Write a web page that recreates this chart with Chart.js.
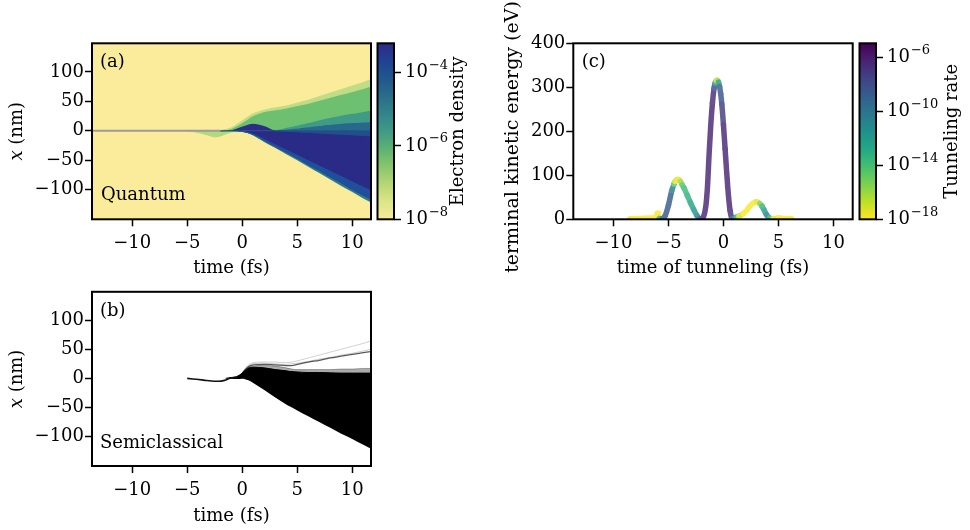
<!DOCTYPE html>
<html>
<head>
<meta charset="utf-8">
<script src="https://cdn.jsdelivr.net/npm/chart.js@4.4.1/dist/chart.umd.min.js"></script>
<style>
  html, body { margin: 0; padding: 0; background: #fff; }
  #fig { position: relative; width: 970px; height: 530px; overflow: hidden; background: #fff; }
  canvas { position: absolute; }
</style>
</head>
<body>
<div id="fig">
  <canvas id="chartA" width="376" height="290" style="left:0px;top:0px"></canvas>
  <canvas id="cbarA" width="104" height="290" style="left:376px;top:0px"></canvas>
  <canvas id="chartB" width="376" height="250" style="left:0px;top:280px"></canvas>
  <canvas id="chartC" width="380" height="290" style="left:480px;top:0px"></canvas>
  <canvas id="cbarC" width="112" height="290" style="left:858px;top:0px"></canvas>
</div>
<script>
!(function(){
	'use strict';

	// ---- tick values / ranges ----
	var TIME_TICKS = [-10, -5, 0, 5, 10];
	var X_NM_TICKS = [-100, -50, 0, 50, 100];
	var ENERGY_TICKS = [0, 100, 200, 300, 400];
	var DENSITY_EXP_TICKS = [-8, -6, -4];
	var RATE_EXP_TICKS = [-18, -14, -10, -6];
	var DENSITY_EXP_RANGE = [-8, -3.2];
	var RATE_EXP_RANGE = [-18, -4.95];

	// ---- (a) quantum: band edges (nm) at A_T (fs) ----
	var A_T          = [-5, -4, -3, -2.5, -2, -1, 0, 1, 2, 3, 4, 5, 6, 7, 8, 9, 10, 11, 11.7];
	var A_UPPER      = [null, null, null, null, 0, 5, 17, 29, 35, 39, 42, 47, 52, 58, 64, 70, 76, 82, 87];
	var A_GREEN_TOP  = [null, null, null, null, 0, 3, 13, 25, 32, 35, 38, 42, 46, 51, 56, 61, 66, 71, 75];
	var A_GREEN_BOT  = [null, null, null, null, 0, 1, 7, 12, 8, 1, 5, 9, 13, 18, 22, 26, 29, 32, 34];
	var A_TEAL_MID   = [null, null, null, null, null, null, null, null, null, 0, 2, 4, 6, 8, 10, 12, 13, 14, 15];
	var A_CORE_TOP   = [null, null, null, null, 0, 1, 7, 12, 8, 1, null, null, null, null, null, null, null, null, null];
	var A_STEEL_BOT  = [null, null, null, null, null, null, null, null, null, 0, -1, -2, -3, -4, -5, -6, -7, -8, -9];
	var A_NAVY_BOT   = [null, null, null, null, 0, 0, -1, -6, -15, -24, -33, -42, -51, -60, -69, -78, -87, -96, -102];
	var A_BLUE_BOT   = [null, null, null, null, 0, 0, -1, -7, -18, -28, -38, -48, -59, -69, -80, -90, -101, -111, -118];
	var A_LOWER      = [null, null, null, null, 0, 0, -1, -8, -19, -29, -40, -50, -61, -72, -83, -94, -104, -115, -122];
	var A_DIP_LOW    = [0, -3, -8, -10.5, -9, -2, 0, null, null, null, null, null, null, null, null, null, null, null, null];
	var A_DIP_IN     = [0, -1.5, -5, -7, -6.5, -1, 0, null, null, null, null, null, null, null, null, null, null, null, null];
	var A_ZERO_T     = [-13.65, -2, 11.7];
	var A_ZERO_X     = [0, 0, 0];

	// ---- (b) semiclassical trajectories (nm) ----
	var B_T      = [-1.5, -1, -0.5, 0, 0.5, 1, 2, 3, 4, 4.3, 5, 6, 7, 8, 9, 10, 11, 11.7];
	var B_TOP    = [0, 1.5, 3, 9, 17, 19, 18, 15, 13, 12, 11, 10, 10, 9.5, 9, 9, 9, 9];
	var B_BOTTOM = [0, -0.5, -1, -0.5, -3, -8, -20, -33, -45, -48, -55, -65, -75, -85, -95, -104, -114, -121];
	var B_DIP_T  = [-5, -4.5, -3.5, -2.8, -2.2, -1.6, -1.1, -0.5];
	var B_DIP_X  = [0, -1, -3, -4.5, -5, -3.5, 0, 2];
	var B_TRAIL_T = [0, 0.5, 1, 2, 3, 4, 4.5, 5, 6, 7, 8, 9, 10, 11, 11.7];
	var B_FUZZ    = [9, 18, 21, 22, 21, 18, 16, 15, 15, 15, 15, 16, 16, 17, 17];
	var B_TRAIL1  = [9, 19, 23, 24, 23, 22, 22, 24, 28, 31, 35, 38, 41, 44, 46];
	var B_TRAIL2  = [10, 22, 27, 28, 28, 27, 28, 30, 35, 40, 45, 50, 55, 60, 64];
	var B_TRAIL3  = [9, 20, 25, 26, 25, 24, 25, 26, 29, 33, 36, 40, 43, 47, 50];

	// ---- (c) terminal energy vs tunneling time, log10 tunneling rate ----
	var C_T = [-8.5, -7.5, -6.5, -6.1, -6.05, -5.9, -5.85, -5.6, -5.3, -5.0, -4.7, -4.5, -4.4, -4.15, -3.9, -3.75, -3.6, -3.3, -3.0, -2.7, -2.4, -2.2, -2.0,
		-1.85, -1.6, -1.45, -1.3, -1.15, -1.0, -0.85, -0.75, -0.65, -0.55, -0.45, -0.35, -0.25, -0.15, 0.0, 0.15, 0.3, 0.45, 0.6, 0.8,
		1.0, 1.2, 1.4, 1.8, 2.1, 2.4, 2.7, 3.0, 3.3, 3.5, 3.7, 3.9, 4.2, 4.5, 5.0, 5.5, 6.2];
	var C_E = [1, 2, 3, 4, 14, 14, 2, 1, 8, 32, 65, 80, 86, 91, 86, 78, 72, 55, 38, 22, 8, 2, 0,
		3, 30, 75, 150, 215, 265, 298, 310, 315, 316, 312, 302, 285, 262, 215, 160, 105, 55, 20, 2,
		3, 5, 7, 13, 20, 30, 37, 40, 36, 30, 21, 11, 3, 1, 3, 2, 1];
	var C_LOGRATE = [-18, -18, -18, -18, -18, -18, -18, -9, -8.5, -8.5, -9, -12, -17, -18, -17, -15, -14, -13.5, -13, -12, -11.5, -10, -7,
		-6.3, -6.3, -6.3, -6.3, -6.3, -6.3, -7, -9, -16, -18, -15, -9, -8.5, -8, -6.5, -6.3, -6.3, -6.3, -6.3, -7,
		-9, -11, -16, -18, -18, -18, -18, -18, -17, -14, -13, -11.5, -10, -17, -18, -18, -18];

	// ---- colours / fonts ----
	var FONT = '"DejaVu Serif", serif';
	var FS = 18;
	var VIRIDIS = ['#440154', '#482374', '#404387', '#345e8d', '#29788e', '#20908c', '#22a884', '#44bf70', '#7ad151', '#bddf26', '#fde725'];
	var HALINE_R = ['#f8ec9a', '#dce587', '#b5d776', '#88c66c', '#5db271', '#3f9a86', '#33848a', '#2a6d8b', '#21568e', '#1f4295', '#2d2a86'];

	Chart.defaults.font.family = FONT;
	Chart.defaults.font.size = FS;
	Chart.defaults.color = '#000';

	function hex(c){ return [parseInt(c.substr(1,2),16), parseInt(c.substr(3,2),16), parseInt(c.substr(5,2),16)]; }

	function rateColor(lr){
		var f = (lr - RATE_EXP_RANGE[0]) / (RATE_EXP_RANGE[1] - RATE_EXP_RANGE[0]);
		var v = Math.min(1, Math.max(0, 1 - f)) * (VIRIDIS.length - 1);
		var i = Math.min(VIRIDIS.length - 2, Math.floor(v)), w = v - i;
		var a = hex(VIRIDIS[i]), b = hex(VIRIDIS[i+1]);
		var rgb = [0,1,2].map(function(k){ return Math.round(0.82 * (a[k] + (b[k]-a[k]) * w) + 0.18 * 255); });
		return 'rgb(' + rgb.join(',') + ')';
	}

	function pts(xs, ys, mask){
		var out = [];
		for (var i = 0; i < xs.length; i++) {
			if (ys[i] != null && (!mask || mask[i] != null)) out.push({x: xs[i], y: ys[i]});
		}
		return out;
	}

	function edge(xs, ys, mask){
		return { data: pts(xs, ys, mask), borderColor: 'rgba(0,0,0,0)', borderWidth: 0, pointRadius: 0, fill: false, cubicInterpolationMode: 'monotone' };
	}

	// filled band between two edges
	function band(xs, top, bottom, color, order){
		var lo = edge(xs, bottom, top);
		var hi = edge(xs, top, bottom);
		hi.fill = '-1'; hi.backgroundColor = color; hi.borderColor = color; hi.borderWidth = 1;
		lo.order = hi.order = order || 0;
		return [lo, hi];
	}

	// filled band between an edge and x = 0
	function zeroBand(xs, ys, color, order){
		var d = edge(xs, ys);
		d.fill = {value: 0}; d.backgroundColor = color; d.borderColor = color; d.borderWidth = 1;
		d.order = order || 0;
		return d;
	}

	function line(xs, ys, color, width){
		var d = edge(xs, ys);
		d.borderColor = color; d.borderWidth = width;
		return d;
	}

	function minus(v){ return String(v).replace('-', '\u2212'); }

	// ---- plugins ----
	var framePlugin = {
		id: 'frame',
		beforeDatasetsDraw: function(chart, args, opts){
			if (!opts.fill) return;
			var a = chart.chartArea, ctx = chart.ctx;
			ctx.save(); ctx.fillStyle = opts.fill; ctx.fillRect(a.left, a.top, a.width, a.height); ctx.restore();
		},
		afterDatasetsDraw: function(chart){
			var a = chart.chartArea, ctx = chart.ctx;
			ctx.save(); ctx.strokeStyle = '#000'; ctx.lineWidth = 2;
			ctx.strokeRect(a.left, a.top, a.width, a.height); ctx.restore();
		}
	};

	// panel letters, in-plot names, rotated titles (parts may be italic)
	var textPlugin = {
		id: 'texts',
		afterDraw: function(chart, args, opts){
			var a = chart.chartArea, ctx = chart.ctx;
			ctx.save();
			ctx.fillStyle = '#000'; ctx.textBaseline = 'middle';
			(opts.items || []).forEach(function(it){
				var parts = it.parts || [{text: it.text}];
				var size = it.size || FS;
				var fontOf = function(p){ return (p.italic ? 'italic ' : '') + size + 'px ' + FONT; };
				var total = 0;
				parts.forEach(function(p){ ctx.font = fontOf(p); total += ctx.measureText(p.text).width; });
				ctx.save();
				if (it.vertical) {
					ctx.translate(it.x, it.cy != null ? it.cy : (a.top + a.bottom) / 2);
					ctx.rotate(-Math.PI / 2);
					ctx.translate(-total / 2, 0);
				} else {
					ctx.translate(a.left + it.left, it.top != null ? a.top + it.top : a.bottom - it.bottom);
				}
				ctx.textAlign = 'left';
				var x = 0;
				parts.forEach(function(p){ ctx.font = fontOf(p); ctx.fillText(p.text, x, 0); x += ctx.measureText(p.text).width; });
				ctx.restore();
			});
			ctx.restore();
		}
	};

	// exponents for the colour bar tick labels ("10" is drawn by the axis)
	var expPlugin = {
		id: 'exps',
		afterDraw: function(chart){
			var s = chart.scales.y, ctx = chart.ctx;
			ctx.save();
			ctx.font = FS + 'px ' + FONT;
			var w10 = ctx.measureText('10').width;
			ctx.font = Math.round(FS * 0.7) + 'px ' + FONT;
			ctx.fillStyle = '#000'; ctx.textAlign = 'left'; ctx.textBaseline = 'middle';
			var x0 = s.left + 7 + 4 + w10 + 1;
			s.ticks.forEach(function(t){
				var e = Math.round(Math.log10(t.value));
				ctx.fillText(minus(e), x0, s.getPixelForValue(t.value) - 7);
			});
			ctx.restore();
		}
	};

	var tickGrid = { display: true, drawOnChartArea: false, drawTicks: true, tickLength: 7, tickWidth: 1.5, tickColor: '#000' };

	function xAxis(max, height, titleText, titlePad){
		return {
			type: 'linear', min: -13.65, max: max,
			afterFit: function(s){ s.height = height; },
			afterBuildTicks: function(s){ s.ticks = TIME_TICKS.map(function(v){ return {value: v}; }); },
			ticks: { padding: 6.2, callback: minus },
			grid: tickGrid, border: { display: false },
			title: { display: true, text: titleText, padding: {top: 0, bottom: titlePad} }
		};
	}

	function yAxis(min, max, ticks, width){
		return {
			type: 'linear', min: min, max: max,
			afterFit: function(s){ s.width = width; },
			afterBuildTicks: function(s){ s.ticks = ticks.map(function(v){ return {value: v}; }); },
			ticks: { padding: 1, callback: minus },
			grid: tickGrid, border: { display: false },
			title: { display: false }
		};
	}

	function lineChart(id, datasets, opts){
		return new Chart(document.getElementById(id), {
			type: 'line',
			data: { datasets: datasets },
			plugins: [framePlugin, textPlugin],
			options: {
				responsive: false, animation: false, normalized: true,
				layout: { padding: opts.padding },
				plugins: { legend: {display: false}, tooltip: {enabled: false}, frame: {fill: opts.bg}, texts: {items: opts.texts} },
				scales: { x: opts.x, y: opts.y }
			}
		});
	}

	function colorbar(id, range, tickExps, stops, axisWidth, title, titleX){
		return new Chart(document.getElementById(id), {
			type: 'bar',
			data: { labels: [''], datasets: [{
				data: [[Math.pow(10, range[0]), Math.pow(10, range[1])]],
				barPercentage: 1, categoryPercentage: 1, borderWidth: 0,
				backgroundColor: function(ctx){
					var a = ctx.chart.chartArea;
					if (!a) return null;
					var g = ctx.chart.ctx.createLinearGradient(0, a.bottom, 0, a.top);
					stops.forEach(function(c, i){ g.addColorStop(i / (stops.length - 1), c); });
					return g;
				}
			}]},
			plugins: [framePlugin, textPlugin, expPlugin],
			options: {
				responsive: false, animation: false,
				layout: { padding: {left: 1.5, top: 43.3, bottom: 70.7, right: 0} },
				plugins: { legend: {display: false}, tooltip: {enabled: false}, texts: {items: [{text: title, vertical: true, x: titleX}]} },
				scales: {
					x: { display: false },
					y: {
						type: 'logarithmic', position: 'right',
						min: Math.pow(10, range[0]), max: Math.pow(10, range[1]),
						afterFit: function(s){ s.width = axisWidth; },
						afterBuildTicks: function(s){ s.ticks = tickExps.map(function(e){ return {value: Math.pow(10, e)}; }); },
						ticks: { padding: 4, callback: function(){ return '10'; } },
						grid: tickGrid, border: { display: false }
					}
				}
			}
		});
	}

	var X_NM_TITLE = [{text: 'x', italic: true}, {text: ' (nm)'}];

	// ---- (a) ----
	// higher order = drawn earlier (underneath)
	var dsA = [].concat(
		band(A_T, A_UPPER, A_GREEN_TOP, '#c0dd86'),
		band(A_T, A_GREEN_TOP, A_GREEN_BOT, '#6dc070'),
		band(A_T, A_GREEN_BOT, A_TEAL_MID, '#3f9a86'),
		[zeroBand(A_T, A_TEAL_MID, '#27698c'),
		 zeroBand(A_T, A_CORE_TOP, '#2b2d87'),
		 zeroBand(A_T, A_NAVY_BOT, '#2a2b86', 3),
		 zeroBand(A_T, A_STEEL_BOT, '#21508c', 1)],
		band(A_T, A_NAVY_BOT, A_BLUE_BOT, '#1f4f9a'),
		band(A_T, A_BLUE_BOT, A_LOWER, '#2a7d8e'),
		[zeroBand(A_T, A_DIP_LOW, '#b3d97f'),
		 zeroBand(A_T, A_DIP_IN, '#80c76e')]
	);
	var zA = edge(A_ZERO_T.slice(0, 2), A_ZERO_X.slice(0, 2));
	zA.borderColor = '#9b9b9b'; zA.borderWidth = 2; zA.order = -1;
	var zA2 = line(A_ZERO_T.slice(1), A_ZERO_X.slice(1), '#214f7e', 1.2); zA2.order = -1;
	dsA.push(zA, zA2);

	lineChart('chartA', dsA, {
		padding: {top: 43.3, right: 5, left: 0, bottom: 0},
		bg: '#fbec9b',
		x: xAxis(11.7, 70.7, 'time (fs)', 10.9),
		y: yAxis(-150.5, 148.6, X_NM_TICKS, 92),
		texts: [{text: '(a)', left: 8, top: 19}, {text: 'Quantum', left: 9, bottom: 24}, {parts: X_NM_TITLE, vertical: true, x: 17}]
	});
	colorbar('cbarA', DENSITY_EXP_RANGE, DENSITY_EXP_TICKS, HALINE_R, 86, 'Electron density', 82);

	// ---- (b) ----
	var body = band(B_T, B_TOP, B_BOTTOM, '#000', 1);
	var fuzz = edge(B_TRAIL_T, B_FUZZ);
	fuzz.fill = {value: 8}; fuzz.backgroundColor = 'rgba(0,0,0,0.33)'; fuzz.borderColor = 'rgba(0,0,0,0.3)'; fuzz.borderWidth = 1; fuzz.order = 5;
	var dsB = body.concat([
		fuzz,
		line(B_TRAIL_T, B_TRAIL1, 'rgba(0,0,0,0.65)', 1.3),
		line(B_TRAIL_T, B_TRAIL2, 'rgba(0,0,0,0.18)', 1),
		line(B_TRAIL_T, B_TRAIL3, 'rgba(0,0,0,0.2)', 1),
		line(B_DIP_T, B_DIP_X, '#111', 1.6)
	]);
	lineChart('chartB', dsB, {
		padding: {top: 9.3, right: 5, left: 0, bottom: 0},
		x: xAxis(11.7, 64, 'time (fs)', 2.5),
		y: yAxis(-150.5, 148.6, X_NM_TICKS, 92),
		texts: [{text: '(b)', left: 8, top: 20}, {text: 'Semiclassical', left: 8, bottom: 23}, {parts: X_NM_TITLE, vertical: true, x: 17}]
	});

	// ---- (c) ----
	lineChart('chartC', [{
		data: pts(C_T, C_E),
		borderWidth: 5.5, pointRadius: 0, fill: false,
		borderCapStyle: 'round', borderJoinStyle: 'round',
		cubicInterpolationMode: 'monotone',
		segment: { borderColor: function(ctx){ return rateColor((C_LOGRATE[ctx.p0DataIndex] + C_LOGRATE[ctx.p1DataIndex]) / 2); } }
	}], {
		padding: {top: 43.3, right: 7.3, left: 0, bottom: 0},
		x: xAxis(11.75, 70.7, 'time of tunneling (fs)', 10.9),
		y: yAxis(0, 400, ENERGY_TICKS, 93.3),
		texts: [{text: '(c)', left: 8.4, top: 19}, {text: 'terminal kinetic energy (eV)', vertical: true, x: 33.5, cy: 137, size: 19}]
	});
	colorbar('cbarC', RATE_EXP_RANGE, RATE_EXP_TICKS, VIRIDIS.slice().reverse(), 94, 'Tunneling rate', 94);

})();
</script>
</body>
</html>
